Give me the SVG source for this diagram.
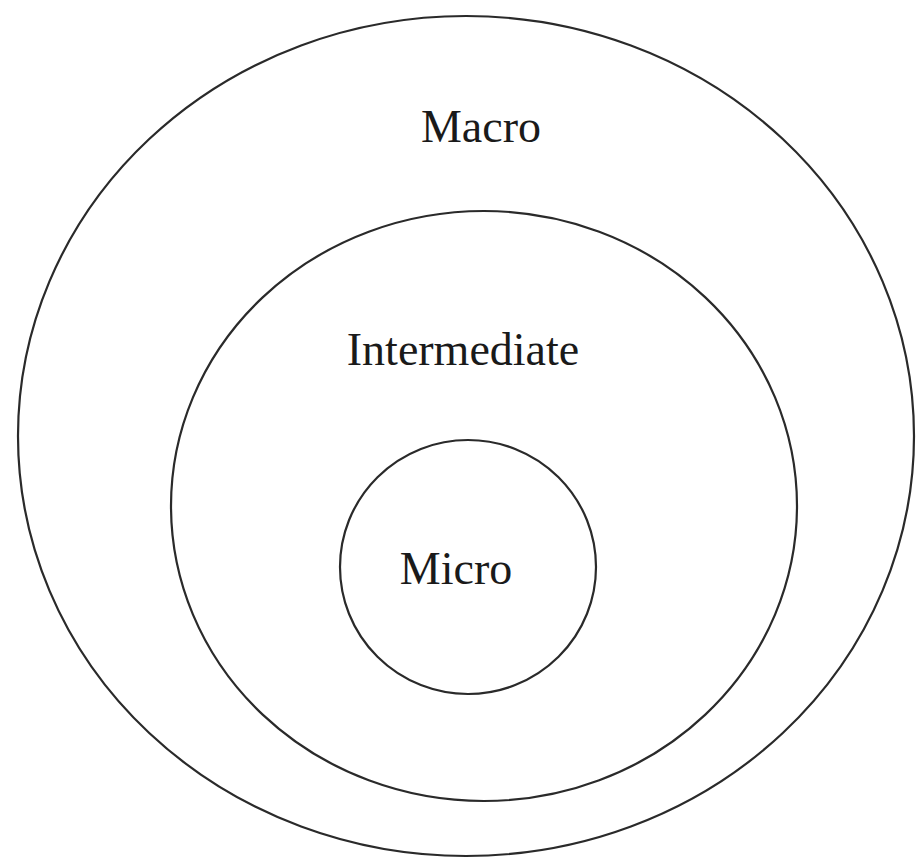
<svg xmlns="http://www.w3.org/2000/svg" width="916" height="860" viewBox="0 0 916 860">
  <style>
    .ring { fill: none; stroke: #2a2a2a; stroke-width: 2.2; }
    .label { font-family: "Liberation Serif", "Times New Roman", serif; font-size: 46px; fill: #1a1a1a; text-anchor: middle; }
  </style>
  <rect width="916" height="860" fill="#ffffff"/>
  <g id="macro">
    <ellipse class="ring" cx="466" cy="436" rx="448" ry="420"/>
    <text class="label" x="481" y="142">Macro</text>
  </g>
  <g id="intermediate">
    <ellipse class="ring" cx="484" cy="506" rx="313" ry="295"/>
    <text class="label" x="463" y="365">Intermediate</text>
  </g>
  <g id="micro">
    <ellipse class="ring" cx="468" cy="567" rx="128" ry="127"/>
    <text class="label" x="456" y="584">Micro</text>
  </g>
  <g id="connectors"/>
</svg>
